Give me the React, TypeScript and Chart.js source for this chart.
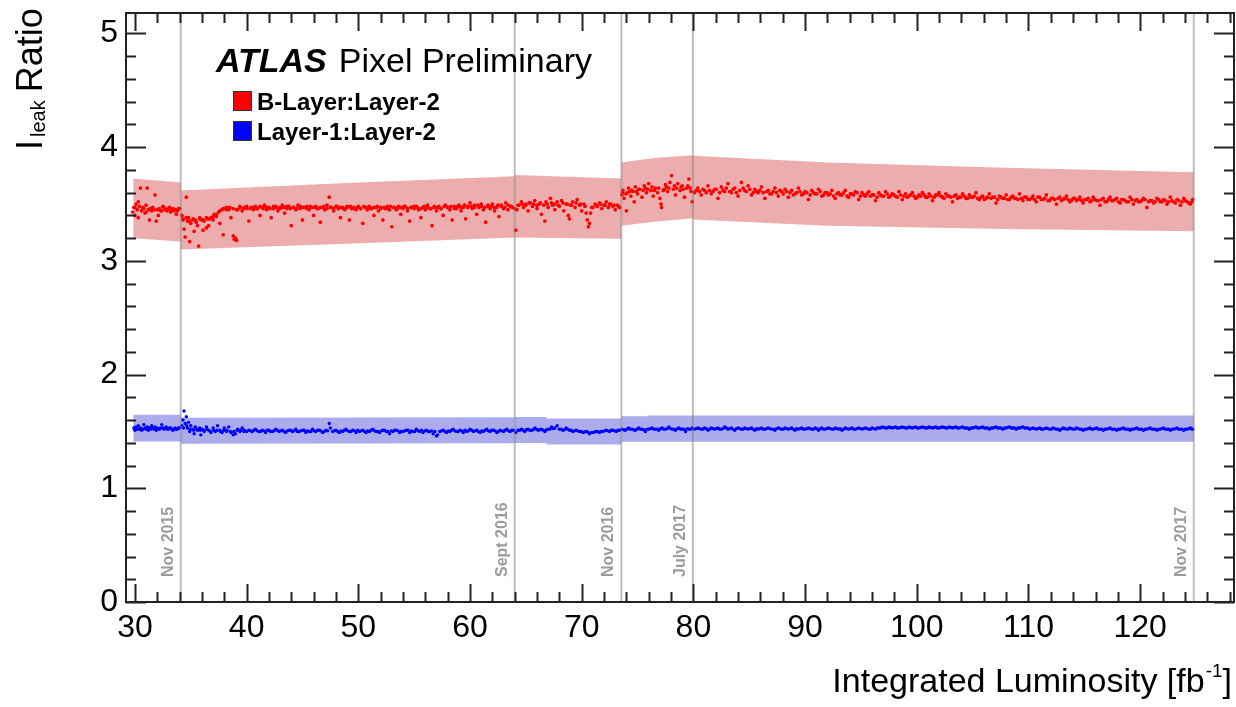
import { useEffect, useRef } from "react";
import { Chart, registerables } from "chart.js";

Chart.register(...registerables);

const FONT = "'Liberation Sans', Arial, Helvetica, sans-serif";

// ---- axes ----
const xRange = [29.2, 128.4];
const yRange = [0, 5.18];
const xMajorTicks = [30, 40, 50, 60, 70, 80, 90, 100, 110, 120];
const yMajorTicks = [0, 1, 2, 3, 4, 5];
const xMinorStep = 2;
const yMinorStep = 0.2;

// ---- period markers ----
const periodLumi = [34.1, 64.0, 73.55, 79.95, 124.8];
const periodLabels = ["Nov 2015", "Sept 2016", "Nov 2016", "July 2017", "Nov 2017"];

// ---- uncertainty bands: segments of [lumi, upper, lower] ----
const bLayerBand: number[][][] = [
  [[29.85, 3.725, 3.2], [34.1, 3.69, 3.17]],
  [[34.1, 3.62, 3.1], [49, 3.685, 3.15], [64.0, 3.745, 3.205]],
  [[64.0, 3.755, 3.205], [73.55, 3.725, 3.195]],
  [[73.55, 3.865, 3.31], [76.5, 3.905, 3.345], [79.95, 3.93, 3.375]],
  [[79.95, 3.925, 3.365], [92, 3.865, 3.31], [108, 3.82, 3.28], [124.8, 3.78, 3.26]],
];
const layer1Band: number[][][] = [
  [[29.85, 1.647, 1.412], [34.1, 1.647, 1.412]],
  [[34.1, 1.62, 1.392], [64.0, 1.625, 1.396]],
  [[64.0, 1.627, 1.398], [66.83, 1.627, 1.398], [66.87, 1.614, 1.386], [73.55, 1.614, 1.386]],
  [[73.55, 1.633, 1.41], [75.88, 1.633, 1.41], [75.92, 1.64, 1.41], [124.8, 1.64, 1.41]],
];

// ---- B-Layer:Layer-2 ratio points [lumi, ratio] ----
const bLayer2015 = [
  [29.8, 3.43], [29.9, 3.47], [30.0, 3.4], [30.0, 3.47], [30.1, 3.5], [30.2, 3.45], [30.3, 3.38], [30.3, 3.52],
  [30.4, 3.48], [30.5, 3.64], [30.6, 3.44], [30.7, 3.47], [30.8, 3.46], [30.9, 3.42], [31.0, 3.49], [31.0, 3.43],
  [31.1, 3.64], [31.2, 3.45], [31.3, 3.36], [31.4, 3.46], [31.5, 3.44], [31.6, 3.47], [31.7, 3.45], [31.8, 3.58],
  [31.9, 3.35], [32.0, 3.45], [32.1, 3.4], [32.2, 3.46], [32.3, 3.44], [32.4, 3.44], [32.5, 3.48], [32.6, 3.47],
  [32.7, 3.45], [32.8, 3.45], [32.9, 3.44], [33.0, 3.46], [33.1, 3.47], [33.2, 3.43], [33.3, 3.45], [33.4, 3.46],
  [33.5, 3.44], [33.6, 3.45], [33.7, 3.41], [33.8, 3.44], [33.9, 3.46], [34.0, 3.46],
];
const bLayer2016a = [
  [34.2, 3.4], [34.3, 3.36], [34.4, 3.28], [34.5, 3.21], [34.6, 3.56], [34.7, 3.35], [34.8, 3.38], [34.9, 3.17],
  [35.0, 3.33], [35.2, 3.37], [35.3, 3.26], [35.4, 3.36], [35.6, 3.31], [35.7, 3.13], [35.8, 3.38], [36.0, 3.36],
  [36.1, 3.27], [36.2, 3.35], [36.4, 3.29], [36.5, 3.37], [36.6, 3.31], [36.8, 3.38], [37.0, 3.36], [37.1, 3.41],
  [37.3, 3.39], [37.5, 3.43], [37.6, 3.33], [37.8, 3.45], [37.9, 3.23], [38.0, 3.46], [38.2, 3.47], [38.4, 3.45],
  [38.6, 3.38], [38.8, 3.22], [38.9, 3.19], [39.0, 3.2], [39.1, 3.18], [39.2, 3.45], [39.4, 3.48], [39.6, 3.44],
  [39.8, 3.47], [40.0, 3.46], [40.2, 3.35], [40.4, 3.47], [40.6, 3.45], [40.8, 3.48], [41.0, 3.46], [41.2, 3.4],
  [41.4, 3.47], [41.6, 3.49], [41.8, 3.45], [42.0, 3.47], [42.2, 3.38], [42.4, 3.46], [42.6, 3.48], [42.8, 3.44],
  [43.0, 3.47], [43.2, 3.49], [43.4, 3.42], [43.6, 3.46], [43.8, 3.48], [44.0, 3.31], [44.2, 3.47], [44.4, 3.45],
  [44.6, 3.49], [44.8, 3.46], [45.0, 3.36], [45.2, 3.47], [45.4, 3.48], [45.6, 3.45], [45.8, 3.47], [46.0, 3.4],
  [46.2, 3.48], [46.4, 3.46], [46.6, 3.34], [46.8, 3.47], [47.0, 3.45], [47.2, 3.49], [47.4, 3.56], [47.6, 3.47],
  [47.8, 3.44], [48.0, 3.48], [48.2, 3.46], [48.4, 3.38], [48.6, 3.47], [48.8, 3.45], [49.0, 3.48], [49.2, 3.36],
  [49.4, 3.46], [49.6, 3.47], [49.8, 3.45], [50.0, 3.48], [50.2, 3.46], [50.4, 3.33], [50.6, 3.47], [50.8, 3.45],
  [51.0, 3.48], [51.2, 3.46], [51.4, 3.4], [51.6, 3.47], [51.8, 3.44], [52.0, 3.47], [52.2, 3.36], [52.4, 3.46],
  [52.6, 3.48], [52.8, 3.45], [53.0, 3.3], [53.2, 3.47], [53.4, 3.45], [53.6, 3.48], [53.8, 3.41], [54.0, 3.46],
  [54.2, 3.48], [54.4, 3.44], [54.6, 3.35], [54.8, 3.47], [55.0, 3.46], [55.2, 3.48], [55.4, 3.45], [55.6, 3.38],
  [55.8, 3.47], [56.0, 3.45], [56.2, 3.49], [56.4, 3.46], [56.6, 3.31], [56.8, 3.47], [57.0, 3.44], [57.2, 3.48],
  [57.4, 3.46], [57.6, 3.4], [57.8, 3.49], [58.0, 3.47], [58.2, 3.45], [58.4, 3.36], [58.6, 3.48], [58.8, 3.46],
  [59.0, 3.49], [59.2, 3.44], [59.4, 3.47], [59.6, 3.37], [59.8, 3.48], [60.0, 3.51], [60.2, 3.46], [60.4, 3.49],
  [60.6, 3.41], [60.8, 3.47], [61.0, 3.5], [61.2, 3.45], [61.4, 3.34], [61.6, 3.48], [61.8, 3.46], [62.0, 3.5],
  [62.2, 3.44], [62.4, 3.47], [62.6, 3.39], [62.8, 3.49], [63.0, 3.46], [63.2, 3.51], [63.4, 3.45], [63.6, 3.48],
  [63.8, 3.47], [64.0, 3.46],
];
const bLayer2016c = [
  [34.3, 3.37], [34.6, 3.38], [34.9, 3.35], [35.2, 3.36], [35.5, 3.34], [35.8, 3.37], [36.1, 3.36], [36.4, 3.38],
  [36.7, 3.37], [37.0, 3.39], [37.3, 3.41], [37.6, 3.44], [37.9, 3.46], [38.2, 3.45], [38.5, 3.47], [38.8, 3.46],
  [39.1, 3.45], [39.4, 3.47], [39.7, 3.46], [40.0, 3.48], [40.3, 3.46], [40.6, 3.47], [40.9, 3.46], [41.2, 3.48],
  [41.5, 3.46], [41.8, 3.47], [42.1, 3.46], [42.4, 3.48], [42.7, 3.47], [43.0, 3.46], [43.3, 3.47], [43.6, 3.48],
  [43.9, 3.46], [44.2, 3.47], [44.5, 3.46], [44.8, 3.48], [45.1, 3.47], [45.4, 3.46], [45.7, 3.48], [46.0, 3.47],
  [46.3, 3.46], [46.6, 3.47], [46.9, 3.48], [47.2, 3.46], [47.5, 3.47], [47.8, 3.46], [48.1, 3.48], [48.4, 3.47],
  [48.7, 3.46], [49.0, 3.47], [49.3, 3.48], [49.6, 3.46], [49.9, 3.47], [50.2, 3.46], [50.5, 3.48], [50.8, 3.47],
  [51.1, 3.46], [51.4, 3.47], [51.7, 3.48], [52.0, 3.46], [52.3, 3.47], [52.6, 3.46], [52.9, 3.48], [53.2, 3.47],
  [53.5, 3.46], [53.8, 3.47], [54.1, 3.48], [54.4, 3.46], [54.7, 3.47], [55.0, 3.48], [55.3, 3.47], [55.6, 3.46],
  [55.9, 3.48], [56.2, 3.47], [56.5, 3.46], [56.8, 3.48], [57.1, 3.47], [57.4, 3.46], [57.7, 3.48], [58.0, 3.47],
  [58.3, 3.48], [58.6, 3.46], [58.9, 3.48], [59.2, 3.47], [59.5, 3.49], [59.8, 3.47], [60.1, 3.48], [60.4, 3.47],
  [60.7, 3.49], [61.0, 3.48], [61.3, 3.47], [61.6, 3.49], [61.9, 3.48], [62.2, 3.47], [62.5, 3.49], [62.8, 3.48],
  [63.1, 3.47], [63.4, 3.49], [63.7, 3.48],
];
const bLayer2016b = [
  [64.1, 3.27], [64.2, 3.45], [64.4, 3.49], [64.6, 3.52], [64.8, 3.47], [65.0, 3.5], [65.2, 3.44], [65.4, 3.51],
  [65.6, 3.48], [65.8, 3.53], [66.0, 3.46], [66.2, 3.5], [66.4, 3.41], [66.6, 3.49], [66.7, 3.35], [66.8, 3.52],
  [67.0, 3.47], [67.2, 3.55], [67.4, 3.49], [67.6, 3.45], [67.8, 3.52], [68.0, 3.48], [68.2, 3.53], [68.4, 3.44],
  [68.6, 3.5], [68.8, 3.4], [68.9, 3.37], [69.0, 3.49], [69.2, 3.52], [69.4, 3.47], [69.6, 3.54], [69.8, 3.49],
  [70.0, 3.44], [70.2, 3.5], [70.4, 3.42], [70.5, 3.36], [70.6, 3.3], [70.7, 3.33], [70.8, 3.42], [71.0, 3.47],
  [71.2, 3.5], [71.4, 3.48], [71.6, 3.51], [71.8, 3.46], [72.0, 3.49], [72.2, 3.52], [72.4, 3.47], [72.6, 3.5],
  [72.8, 3.48], [73.0, 3.45], [73.2, 3.49], [73.4, 3.47],
];
const bLayer2016d = [
  [64.3, 3.49], [64.7, 3.5], [65.0, 3.49], [65.3, 3.51], [65.7, 3.5], [66.0, 3.49], [66.3, 3.51], [66.9, 3.5],
  [67.3, 3.51], [67.6, 3.5], [67.9, 3.49], [68.3, 3.51], [68.7, 3.5], [69.1, 3.49], [69.5, 3.51], [69.9, 3.5],
  [70.3, 3.48], [70.9, 3.47], [71.3, 3.49], [71.7, 3.5], [72.1, 3.49], [72.5, 3.5], [72.9, 3.49], [73.3, 3.48],
];
const bLayer2017a = [
  [73.6, 3.58], [73.7, 3.62], [73.8, 3.55], [74.0, 3.44], [74.1, 3.6], [74.2, 3.64], [74.4, 3.57], [74.6, 3.61],
  [74.7, 3.52], [74.8, 3.65], [75.0, 3.59], [75.2, 3.63], [75.4, 3.56], [75.6, 3.66], [75.8, 3.6], [76.0, 3.68],
  [76.2, 3.62], [76.4, 3.57], [76.6, 3.64], [76.8, 3.6], [77.0, 3.55], [77.1, 3.5], [77.15, 3.47], [77.3, 3.62],
  [77.5, 3.67], [77.7, 3.61], [77.9, 3.69], [78.05, 3.75], [78.2, 3.63], [78.4, 3.58], [78.6, 3.68], [78.8, 3.62],
  [79.0, 3.66], [79.2, 3.56], [79.4, 3.64], [79.6, 3.72], [79.8, 3.61], [79.9, 3.52],
];
const bLayer2017d = [
  [73.65, 3.6], [73.95, 3.59], [74.3, 3.61], [74.5, 3.62], [74.9, 3.61], [75.1, 3.63], [75.5, 3.62], [75.7, 3.64],
  [75.9, 3.63], [76.3, 3.65], [76.5, 3.62], [76.9, 3.64], [77.4, 3.63], [77.6, 3.65], [77.8, 3.64], [78.3, 3.66],
  [78.5, 3.64], [78.9, 3.65], [79.1, 3.63], [79.5, 3.66], [79.7, 3.64],
];
const bLayer2017b = [
  [80.1, 3.6], [80.4, 3.64], [80.7, 3.58], [81.0, 3.62], [81.3, 3.66], [81.6, 3.59], [81.9, 3.63], [82.2, 3.55],
  [82.5, 3.65], [82.8, 3.61], [83.1, 3.68], [83.4, 3.6], [83.7, 3.64], [84.0, 3.57], [84.3, 3.69], [84.6, 3.62],
  [84.9, 3.66], [85.2, 3.58], [85.5, 3.63], [85.8, 3.6], [86.1, 3.65], [86.4, 3.55], [86.7, 3.62], [87.0, 3.59],
  [87.3, 3.64], [87.6, 3.57], [87.9, 3.61], [88.2, 3.63], [88.5, 3.56], [88.8, 3.62], [89.1, 3.59], [89.4, 3.64],
  [89.7, 3.58], [90.0, 3.61], [90.3, 3.54], [90.6, 3.62], [90.9, 3.59], [91.2, 3.63], [91.5, 3.57], [91.8, 3.6],
  [92.1, 3.58], [92.4, 3.62], [92.7, 3.55], [93.0, 3.6], [93.3, 3.58], [93.6, 3.62], [93.9, 3.56], [94.2, 3.59],
  [94.5, 3.61], [94.8, 3.54], [95.1, 3.6], [95.4, 3.57], [95.7, 3.61], [96.0, 3.58], [96.3, 3.53], [96.6, 3.6],
  [96.9, 3.57], [97.2, 3.61], [97.5, 3.56], [97.8, 3.59], [98.1, 3.57], [98.4, 3.61], [98.7, 3.54], [99.0, 3.59],
  [99.3, 3.57], [99.6, 3.6], [99.9, 3.55], [100.2, 3.58], [100.5, 3.6], [100.8, 3.56], [101.1, 3.59], [101.4, 3.53],
  [101.7, 3.58], [102.0, 3.6], [102.3, 3.56], [102.6, 3.59], [102.9, 3.57], [103.2, 3.52], [103.5, 3.58], [103.8, 3.56],
  [104.1, 3.59], [104.4, 3.55], [104.7, 3.58], [105.0, 3.56], [105.3, 3.6], [105.6, 3.54], [105.9, 3.57], [106.2, 3.55],
  [106.5, 3.59], [106.8, 3.56], [107.1, 3.51], [107.4, 3.57], [107.7, 3.55], [108.0, 3.58], [108.3, 3.54], [108.6, 3.57],
  [108.9, 3.55], [109.2, 3.59], [109.5, 3.53], [109.8, 3.56], [110.1, 3.54], [110.4, 3.57], [110.7, 3.52], [111.0, 3.56],
  [111.3, 3.54], [111.6, 3.58], [111.9, 3.53], [112.2, 3.55], [112.5, 3.5], [112.8, 3.56], [113.1, 3.54], [113.4, 3.57],
  [113.7, 3.52], [114.0, 3.55], [114.3, 3.53], [114.6, 3.56], [114.9, 3.51], [115.2, 3.54], [115.5, 3.52], [115.8, 3.56],
  [116.1, 3.53], [116.4, 3.49], [116.7, 3.55], [117.0, 3.52], [117.3, 3.56], [117.6, 3.53], [117.9, 3.55], [118.2, 3.51],
  [118.5, 3.54], [118.8, 3.52], [119.1, 3.56], [119.4, 3.5], [119.7, 3.54], [120.0, 3.52], [120.3, 3.55], [120.6, 3.47],
  [120.9, 3.53], [121.2, 3.51], [121.5, 3.55], [121.8, 3.52], [122.1, 3.54], [122.4, 3.5], [122.7, 3.56], [123.0, 3.52],
  [123.3, 3.54], [123.6, 3.49], [123.9, 3.55], [124.2, 3.52], [124.5, 3.5], [124.7, 3.54],
];
const bLayer2017c = [
  [80.25, 3.62], [80.55, 3.61], [80.85, 3.63], [81.15, 3.6], [81.45, 3.62], [81.75, 3.61], [82.05, 3.63], [82.35, 3.6],
  [82.65, 3.62], [82.95, 3.64], [83.25, 3.61], [83.55, 3.63], [83.85, 3.6], [84.15, 3.62], [84.45, 3.64], [84.75, 3.61],
  [85.05, 3.63], [85.35, 3.6], [85.65, 3.61], [85.95, 3.62], [86.25, 3.6], [86.55, 3.61], [86.85, 3.59], [87.15, 3.61],
  [87.45, 3.6], [87.75, 3.62], [88.05, 3.59], [88.35, 3.61], [88.65, 3.6], [88.95, 3.58], [89.25, 3.6], [89.55, 3.61],
  [89.85, 3.59], [90.15, 3.6], [90.45, 3.58], [90.75, 3.6], [91.05, 3.59], [91.35, 3.61], [91.65, 3.58], [91.95, 3.6],
  [92.25, 3.59], [92.55, 3.57], [92.85, 3.59], [93.15, 3.58], [93.45, 3.6], [93.75, 3.57], [94.05, 3.59], [94.35, 3.58],
  [94.65, 3.6], [94.95, 3.57], [95.25, 3.58], [95.55, 3.59], [95.85, 3.57], [96.15, 3.58], [96.45, 3.56], [96.75, 3.58],
  [97.05, 3.57], [97.35, 3.59], [97.65, 3.57], [97.95, 3.58], [98.25, 3.56], [98.55, 3.58], [98.85, 3.57], [99.15, 3.56],
  [99.45, 3.58], [99.75, 3.57], [100.05, 3.56], [100.35, 3.57], [100.65, 3.58], [100.95, 3.56], [101.25, 3.57], [101.55, 3.56],
  [101.85, 3.58], [102.15, 3.57], [102.45, 3.55], [102.75, 3.57], [103.05, 3.56], [103.35, 3.57], [103.65, 3.55], [103.95, 3.56],
  [104.25, 3.57], [104.55, 3.55], [104.85, 3.56], [105.15, 3.57], [105.45, 3.55], [105.75, 3.56], [106.05, 3.54], [106.35, 3.56],
  [106.65, 3.55], [106.95, 3.56], [107.25, 3.54], [107.55, 3.56], [107.85, 3.55], [108.15, 3.54], [108.45, 3.56], [108.75, 3.55],
  [109.05, 3.54], [109.35, 3.55], [109.65, 3.56], [109.95, 3.54], [110.25, 3.55], [110.55, 3.54], [110.85, 3.56], [111.15, 3.54],
  [111.45, 3.55], [111.75, 3.53], [112.05, 3.55], [112.35, 3.54], [112.65, 3.55], [112.95, 3.53], [113.25, 3.55], [113.55, 3.54],
  [113.85, 3.53], [114.15, 3.55], [114.45, 3.54], [114.75, 3.53], [115.05, 3.54], [115.35, 3.55], [115.65, 3.53], [115.95, 3.54],
  [116.25, 3.53], [116.55, 3.54], [116.85, 3.52], [117.15, 3.54], [117.45, 3.53], [117.75, 3.54], [118.05, 3.52], [118.35, 3.54],
  [118.65, 3.53], [118.95, 3.52], [119.25, 3.54], [119.55, 3.53], [119.85, 3.52], [120.15, 3.53], [120.45, 3.54], [120.75, 3.52],
  [121.05, 3.53], [121.35, 3.52], [121.65, 3.54], [121.95, 3.52], [122.25, 3.53], [122.55, 3.52], [122.85, 3.53], [123.15, 3.51],
  [123.45, 3.53], [123.75, 3.52], [124.05, 3.53], [124.35, 3.51], [124.65, 3.52],
];

// ---- Layer-1:Layer-2 ratio points [lumi, ratio] ----
const layer1_2015 = [
  [29.9, 1.53], [30.0, 1.51], [30.1, 1.54], [30.2, 1.52], [30.3, 1.55], [30.4, 1.52], [30.5, 1.53], [30.6, 1.51],
  [30.7, 1.52], [30.8, 1.56], [30.9, 1.53], [31.0, 1.52], [31.1, 1.54], [31.2, 1.51], [31.3, 1.53], [31.4, 1.52],
  [31.5, 1.55], [31.6, 1.53], [31.7, 1.52], [31.8, 1.54], [31.9, 1.51], [32.0, 1.53], [32.1, 1.52], [32.2, 1.52],
  [32.3, 1.53], [32.4, 1.56], [32.5, 1.53], [32.6, 1.52], [32.7, 1.53], [32.8, 1.54], [32.9, 1.52], [33.0, 1.52],
  [33.1, 1.53], [33.2, 1.53], [33.3, 1.52], [33.4, 1.51], [33.5, 1.52], [33.6, 1.53], [33.7, 1.52], [33.8, 1.52],
  [33.9, 1.53], [34.0, 1.53],
];
const layer1_2016a = [
  [34.2, 1.55], [34.3, 1.6], [34.4, 1.68], [34.5, 1.57], [34.6, 1.63], [34.7, 1.53], [34.8, 1.58], [34.9, 1.5],
  [35.0, 1.55], [35.2, 1.52], [35.3, 1.48], [35.4, 1.54], [35.6, 1.51], [35.8, 1.53], [35.9, 1.47], [36.0, 1.52],
  [36.2, 1.5], [36.4, 1.54], [36.6, 1.51], [36.8, 1.49], [37.0, 1.53], [37.2, 1.5], [37.4, 1.55], [37.6, 1.51],
  [37.8, 1.49], [38.0, 1.53], [38.2, 1.5], [38.4, 1.54], [38.6, 1.49], [38.8, 1.47], [39.0, 1.48], [39.2, 1.52],
  [39.4, 1.5], [39.6, 1.53], [39.8, 1.51], [40.0, 1.5], [40.2, 1.51], [40.5, 1.5], [40.8, 1.52], [41.1, 1.5],
  [41.4, 1.51], [41.7, 1.49], [42.0, 1.51], [42.3, 1.5], [42.6, 1.52], [42.9, 1.5], [43.2, 1.51], [43.5, 1.49],
  [43.8, 1.51], [44.1, 1.5], [44.4, 1.52], [44.7, 1.5], [45.0, 1.51], [45.3, 1.49], [45.6, 1.5], [45.9, 1.52],
  [46.2, 1.5], [46.5, 1.51], [46.8, 1.49], [47.1, 1.51], [47.4, 1.57], [47.5, 1.53], [47.7, 1.5], [48.0, 1.51],
  [48.3, 1.49], [48.6, 1.5], [48.9, 1.52], [49.2, 1.5], [49.5, 1.51], [49.8, 1.49], [50.1, 1.5], [50.4, 1.51],
  [50.7, 1.49], [51.0, 1.5], [51.3, 1.52], [51.6, 1.5], [51.9, 1.49], [52.2, 1.51], [52.5, 1.5], [52.8, 1.48],
  [53.1, 1.5], [53.4, 1.51], [53.7, 1.49], [54.0, 1.5], [54.3, 1.51], [54.6, 1.49], [54.9, 1.5], [55.2, 1.52],
  [55.5, 1.5], [55.8, 1.49], [56.1, 1.51], [56.4, 1.5], [56.7, 1.48], [57.0, 1.46], [57.1, 1.47], [57.3, 1.5],
  [57.6, 1.51], [57.9, 1.49], [58.2, 1.5], [58.5, 1.52], [58.8, 1.5], [59.1, 1.51], [59.4, 1.49], [59.7, 1.5],
  [60.0, 1.52], [60.3, 1.5], [60.6, 1.51], [60.9, 1.49], [61.2, 1.5], [61.5, 1.52], [61.8, 1.5], [62.1, 1.51],
  [62.4, 1.49], [62.7, 1.51], [63.0, 1.5], [63.3, 1.52], [63.6, 1.5], [63.9, 1.51],
];
const layer1_2016c = [
  [34.35, 1.53], [34.65, 1.55], [34.95, 1.52], [35.25, 1.51], [35.55, 1.52], [35.85, 1.51], [36.15, 1.51], [36.45, 1.52],
  [36.75, 1.5], [37.05, 1.51], [37.35, 1.51], [37.65, 1.5], [37.95, 1.51], [38.25, 1.51], [38.55, 1.5], [38.85, 1.5],
  [39.15, 1.51], [39.45, 1.51], [39.75, 1.5], [40.35, 1.505], [40.65, 1.51], [40.95, 1.505], [41.25, 1.5], [41.55, 1.505],
  [41.85, 1.51], [42.15, 1.5], [42.45, 1.505], [42.75, 1.51], [43.05, 1.505], [43.35, 1.5], [43.65, 1.505], [43.95, 1.51],
  [44.25, 1.505], [44.55, 1.5], [44.85, 1.505], [45.15, 1.51], [45.45, 1.505], [45.75, 1.5], [46.05, 1.505], [46.35, 1.51],
  [46.65, 1.505], [46.95, 1.5], [47.25, 1.505], [47.85, 1.505], [48.15, 1.5], [48.45, 1.505], [48.75, 1.51], [49.05, 1.505],
  [49.35, 1.5], [49.65, 1.505], [49.95, 1.51], [50.25, 1.505], [50.55, 1.5], [50.85, 1.505], [51.15, 1.51], [51.45, 1.505],
  [51.75, 1.5], [52.05, 1.505], [52.35, 1.51], [52.65, 1.5], [52.95, 1.505], [53.25, 1.51], [53.55, 1.505], [53.85, 1.5],
  [54.15, 1.505], [54.45, 1.51], [54.75, 1.505], [55.05, 1.5], [55.35, 1.505], [55.65, 1.51], [55.95, 1.505], [56.25, 1.5],
  [56.55, 1.505], [56.85, 1.5], [57.45, 1.505], [57.75, 1.5], [58.05, 1.505], [58.35, 1.51], [58.65, 1.505], [58.95, 1.5],
  [59.25, 1.505], [59.55, 1.51], [59.85, 1.505], [60.15, 1.51], [60.45, 1.505], [60.75, 1.5], [61.05, 1.505], [61.35, 1.51],
  [61.65, 1.505], [61.95, 1.51], [62.25, 1.505], [62.55, 1.5], [62.85, 1.505], [63.15, 1.51], [63.45, 1.505], [63.75, 1.51],
];
const layer1_2016b = [
  [64.1, 1.49], [64.3, 1.51], [64.6, 1.52], [64.9, 1.5], [65.2, 1.52], [65.5, 1.51], [65.8, 1.53], [66.1, 1.51],
  [66.4, 1.52], [66.7, 1.5], [67.0, 1.52], [67.3, 1.54], [67.6, 1.53], [67.8, 1.55], [68.0, 1.52], [68.3, 1.51],
  [68.6, 1.53], [68.9, 1.51], [69.2, 1.5], [69.5, 1.51], [69.8, 1.5], [70.1, 1.49], [70.4, 1.5], [70.7, 1.48],
  [71.0, 1.49], [71.3, 1.5], [71.6, 1.49], [71.9, 1.5], [72.2, 1.51], [72.5, 1.5], [72.8, 1.51], [73.1, 1.5],
  [73.4, 1.51],
];
const layer1_2016d = [
  [64.45, 1.51], [64.75, 1.51], [65.05, 1.515], [65.35, 1.51], [65.65, 1.515], [65.95, 1.52], [66.25, 1.515], [66.55, 1.51],
  [66.85, 1.515], [67.15, 1.52], [67.45, 1.525], [68.15, 1.52], [68.45, 1.515], [68.75, 1.52], [69.05, 1.51], [69.35, 1.505],
  [69.65, 1.505], [69.95, 1.5], [70.25, 1.495], [70.55, 1.495], [70.85, 1.49], [71.15, 1.495], [71.45, 1.5], [71.75, 1.5],
  [72.05, 1.505], [72.35, 1.505], [72.65, 1.51], [72.95, 1.505], [73.25, 1.51],
];
const layer1_2017a = [
  [73.6, 1.52], [73.9, 1.51], [74.2, 1.53], [74.5, 1.52], [74.8, 1.51], [75.1, 1.53], [75.4, 1.52], [75.7, 1.5],
  [76.0, 1.52], [76.3, 1.53], [76.6, 1.52], [76.9, 1.51], [77.2, 1.53], [77.5, 1.52], [77.8, 1.54], [78.1, 1.52],
  [78.4, 1.51], [78.7, 1.53], [79.0, 1.52], [79.3, 1.5], [79.6, 1.52], [79.9, 1.53],
  [73.75, 1.515], [74.05, 1.52], [74.35, 1.52], [74.65, 1.515], [74.95, 1.52], [75.25, 1.52], [75.55, 1.515], [75.85, 1.52],
  [76.15, 1.525], [76.45, 1.52], [76.75, 1.52], [77.05, 1.525], [77.35, 1.52], [77.65, 1.525], [77.95, 1.525], [78.25, 1.52],
  [78.55, 1.525], [78.85, 1.52], [79.15, 1.52], [79.45, 1.525], [79.75, 1.52],
];
const layer1_2017b = [
  [80.1, 1.52], [80.4, 1.53], [80.7, 1.52], [81.0, 1.53], [81.3, 1.51], [81.6, 1.53], [81.9, 1.52], [82.2, 1.53],
  [82.5, 1.52], [82.8, 1.54], [83.1, 1.52], [83.4, 1.53], [83.7, 1.51], [84.0, 1.53], [84.3, 1.52], [84.6, 1.53],
  [84.9, 1.52], [85.2, 1.53], [85.5, 1.51], [85.8, 1.52], [86.1, 1.53], [86.4, 1.52], [86.7, 1.53], [87.0, 1.52],
  [87.3, 1.51], [87.6, 1.53], [87.9, 1.52], [88.2, 1.53], [88.5, 1.52], [88.8, 1.53], [89.1, 1.51], [89.4, 1.52],
  [89.7, 1.53], [90.0, 1.52], [90.3, 1.53], [90.6, 1.52], [90.9, 1.53], [91.2, 1.51], [91.5, 1.53], [91.8, 1.52],
  [92.1, 1.53], [92.4, 1.52], [92.7, 1.53], [93.0, 1.52], [93.3, 1.51], [93.6, 1.53], [93.9, 1.52], [94.2, 1.53],
  [94.5, 1.52], [94.8, 1.53], [95.1, 1.52], [95.4, 1.53], [95.7, 1.52], [96.0, 1.53], [96.3, 1.52], [96.6, 1.53],
  [96.9, 1.54], [97.2, 1.53], [97.5, 1.54], [97.8, 1.53], [98.1, 1.54], [98.4, 1.53], [98.7, 1.54], [99.0, 1.53],
  [99.3, 1.54], [99.6, 1.53], [99.9, 1.54], [100.2, 1.53], [100.5, 1.54], [100.8, 1.53], [101.1, 1.54], [101.4, 1.53],
  [101.7, 1.54], [102.0, 1.53], [102.3, 1.54], [102.6, 1.53], [102.9, 1.54], [103.2, 1.53], [103.5, 1.54], [103.8, 1.53],
  [104.1, 1.54], [104.4, 1.53], [104.7, 1.52], [105.0, 1.53], [105.3, 1.54], [105.6, 1.53], [105.9, 1.54], [106.2, 1.53],
  [106.5, 1.52], [106.8, 1.53], [107.1, 1.54], [107.4, 1.53], [107.7, 1.52], [108.0, 1.53], [108.3, 1.54], [108.6, 1.53],
  [108.9, 1.52], [109.2, 1.53], [109.5, 1.54], [109.8, 1.53], [110.1, 1.52], [110.4, 1.53], [110.7, 1.52], [111.0, 1.53],
  [111.3, 1.52], [111.6, 1.53], [111.9, 1.52], [112.2, 1.53], [112.5, 1.52], [112.8, 1.51], [113.1, 1.53], [113.4, 1.52],
  [113.7, 1.53], [114.0, 1.52], [114.3, 1.53], [114.6, 1.52], [114.9, 1.51], [115.2, 1.52], [115.5, 1.53], [115.8, 1.52],
  [116.1, 1.53], [116.4, 1.52], [116.7, 1.51], [117.0, 1.52], [117.3, 1.53], [117.6, 1.52], [117.9, 1.51], [118.2, 1.52],
  [118.5, 1.53], [118.8, 1.52], [119.1, 1.51], [119.4, 1.52], [119.7, 1.53], [120.0, 1.52], [120.3, 1.51], [120.6, 1.52],
  [120.9, 1.53], [121.2, 1.52], [121.5, 1.51], [121.8, 1.52], [122.1, 1.53], [122.4, 1.52], [122.7, 1.51], [123.0, 1.52],
  [123.3, 1.53], [123.6, 1.52], [123.9, 1.51], [124.2, 1.52], [124.5, 1.53], [124.7, 1.52],
];
const layer1_2017c = [
  [80.25, 1.525], [80.55, 1.525], [80.85, 1.52], [81.15, 1.525], [81.45, 1.52], [81.75, 1.525], [82.05, 1.525], [82.35, 1.52],
  [82.65, 1.525], [82.95, 1.53], [83.25, 1.525], [83.55, 1.52], [83.85, 1.525], [84.15, 1.525], [84.45, 1.52], [84.75, 1.525],
  [85.05, 1.525], [85.35, 1.52], [85.65, 1.525], [85.95, 1.525], [86.25, 1.52], [86.55, 1.525], [86.85, 1.525], [87.15, 1.52],
  [87.45, 1.525], [87.75, 1.525], [88.05, 1.52], [88.35, 1.525], [88.65, 1.525], [88.95, 1.52], [89.25, 1.525], [89.55, 1.525],
  [89.85, 1.52], [90.15, 1.525], [90.45, 1.525], [90.75, 1.52], [91.05, 1.525], [91.35, 1.525], [91.65, 1.52], [91.95, 1.525],
  [92.25, 1.525], [92.55, 1.52], [92.85, 1.525], [93.15, 1.525], [93.45, 1.52], [93.75, 1.525], [94.05, 1.525], [94.35, 1.52],
  [94.65, 1.525], [94.95, 1.525], [95.25, 1.525], [95.55, 1.525], [95.85, 1.52], [96.15, 1.525], [96.45, 1.53], [96.75, 1.53],
  [97.05, 1.535], [97.35, 1.53], [97.65, 1.535], [97.95, 1.535], [98.25, 1.53], [98.55, 1.535], [98.85, 1.535], [99.15, 1.53],
  [99.45, 1.535], [99.75, 1.535], [100.05, 1.53], [100.35, 1.535], [100.65, 1.535], [100.95, 1.53], [101.25, 1.535], [101.55, 1.535],
  [101.85, 1.53], [102.15, 1.535], [102.45, 1.535], [102.75, 1.53], [103.05, 1.535], [103.35, 1.535], [103.65, 1.53], [103.95, 1.535],
  [104.25, 1.53], [104.55, 1.53], [104.85, 1.53], [105.15, 1.535], [105.45, 1.53], [105.75, 1.535], [106.05, 1.53], [106.35, 1.53],
  [106.65, 1.53], [106.95, 1.535], [107.25, 1.53], [107.55, 1.53], [107.85, 1.53], [108.15, 1.535], [108.45, 1.53], [108.75, 1.53],
  [109.05, 1.53], [109.35, 1.535], [109.65, 1.53], [109.95, 1.53], [110.25, 1.525], [110.55, 1.525], [110.85, 1.525], [111.15, 1.52],
  [111.45, 1.525], [111.75, 1.525], [112.05, 1.52], [112.35, 1.525], [112.65, 1.52], [112.95, 1.52], [113.25, 1.525], [113.55, 1.52],
  [113.85, 1.525], [114.15, 1.52], [114.45, 1.525], [114.75, 1.52], [115.05, 1.52], [115.35, 1.525], [115.65, 1.52], [115.95, 1.525],
  [116.25, 1.52], [116.55, 1.52], [116.85, 1.52], [117.15, 1.525], [117.45, 1.52], [117.75, 1.52], [118.05, 1.52], [118.35, 1.525],
  [118.65, 1.52], [118.95, 1.52], [119.25, 1.52], [119.55, 1.525], [119.85, 1.52], [120.15, 1.52], [120.45, 1.52], [120.75, 1.525],
  [121.05, 1.52], [121.35, 1.52], [121.65, 1.52], [121.95, 1.525], [122.25, 1.52], [122.55, 1.52], [122.85, 1.52], [123.15, 1.525],
  [123.45, 1.52], [123.75, 1.52], [124.05, 1.52], [124.35, 1.525], [124.65, 1.52],
];

const RED = "#ff0000";
const BLUE = "#0000ff";
const RED_BAND = "rgb(235,173,173)";
const BLUE_BAND = "rgb(172,172,236)";

const toXY = (pts: number[][]) => pts.map(([x, y]) => ({ x, y }));

function bandDatasets(segments: number[][][], color: string) {
  const out: any[] = [];
  segments.forEach((seg) => {
    out.push({
      data: seg.map(([x, up]) => ({ x, y: up })),
      showLine: true,
      borderWidth: 0,
      borderColor: "rgba(0,0,0,0)",
      pointRadius: 0,
      fill: false,
      order: 3,
    });
    out.push({
      data: seg.map(([x, , lo]) => ({ x, y: lo })),
      showLine: true,
      borderWidth: 0,
      borderColor: "rgba(0,0,0,0)",
      backgroundColor: color,
      pointRadius: 0,
      fill: "-1",
      order: 3,
    });
  });
  return out;
}

function pointDataset(pts: number[][], color: string, radius: number) {
  return {
    data: toXY(pts),
    showLine: false,
    pointRadius: radius,
    pointHoverRadius: radius,
    pointBorderWidth: 0,
    pointBackgroundColor: color,
    order: 1,
  };
}

const rootStylePlugin = {
  id: "rootStyle",
  afterDatasetsDraw(chart: any) {
    const { ctx, chartArea: a, scales } = chart;
    const xs = scales.x;
    const ys = scales.y;
    ctx.save();
    ctx.strokeStyle = "#222";
    ctx.lineWidth = 2;
    ctx.strokeRect(a.left, a.top, a.right - a.left, a.bottom - a.top);
    ctx.beginPath();
    for (let v = xMajorTicks[0]; v <= xRange[1]; v += xMinorStep) {
      const isMajor = xMajorTicks.includes(Math.round(v * 1000) / 1000);
      const len = isMajor ? 18 : 10;
      const px = Math.round(xs.getPixelForValue(v)) + 0.5;
      ctx.moveTo(px, a.bottom);
      ctx.lineTo(px, a.bottom - len);
      ctx.moveTo(px, a.top);
      ctx.lineTo(px, a.top + len);
    }
    for (let i = 0; i * yMinorStep <= yRange[1] + 1e-9; i++) {
      const v = Math.round(i * yMinorStep * 1000) / 1000;
      const isMajor = yMajorTicks.includes(v);
      const len = isMajor ? 20 : 10;
      const py = Math.round(ys.getPixelForValue(v)) + 0.5;
      ctx.moveTo(a.left, py);
      ctx.lineTo(a.left + len, py);
      ctx.moveTo(a.right, py);
      ctx.lineTo(a.right - len, py);
    }
    ctx.lineWidth = 2;
    ctx.stroke();

    ctx.fillStyle = "#9c9c9c";
    ctx.font = `bold 16px ${FONT}`;
    ctx.textAlign = "left";
    ctx.textBaseline = "alphabetic";
    periodLumi.forEach((l, i) => {
      const px = xs.getPixelForValue(l);
      ctx.save();
      ctx.translate(px - 8, a.bottom - 25);
      ctx.rotate(-Math.PI / 2);
      ctx.fillText(periodLabels[i], 0, 0);
      ctx.restore();
    });
    ctx.restore();
  },
  afterDraw(chart: any) {
    const { ctx, chartArea: a } = chart;
    ctx.save();
    ctx.fillStyle = "#000";
    ctx.textBaseline = "alphabetic";
    ctx.textAlign = "left";
    ctx.font = `italic bold 34px ${FONT}`;
    ctx.fillText("ATLAS", 216, 72);
    const wA = ctx.measureText("ATLAS").width;
    ctx.font = `34px ${FONT}`;
    ctx.fillText("Pixel Preliminary", 216 + wA + 12, 72);

    const legend = [
      { color: RED, text: "B-Layer:Layer-2", y: 91 },
      { color: BLUE, text: "Layer-1:Layer-2", y: 121 },
    ];
    legend.forEach((it) => {
      ctx.fillStyle = it.color;
      ctx.fillRect(233, it.y, 19, 20);
      ctx.strokeStyle = "#333";
      ctx.lineWidth = 1;
      ctx.strokeRect(233.5, it.y + 0.5, 18, 19);
      ctx.fillStyle = "#000";
      ctx.font = `bold 24px ${FONT}`;
      ctx.fillText(it.text, 257, it.y + 18.5);
    });

    ctx.save();
    ctx.translate(42, 150);
    ctx.rotate(-Math.PI / 2);
    ctx.font = `36px ${FONT}`;
    ctx.fillText("I", 0, 0);
    const wI = ctx.measureText("I").width;
    ctx.font = `20px ${FONT}`;
    ctx.fillText("leak", wI + 3, 3);
    const wL = ctx.measureText("leak").width;
    ctx.font = `36px ${FONT}`;
    ctx.fillText("Ratio", wI + 3 + wL + 8, 0);
    ctx.restore();

    const main = "Integrated Luminosity [fb";
    ctx.font = `34px ${FONT}`;
    const wMain = ctx.measureText(main).width;
    const wBr = ctx.measureText("]").width;
    ctx.font = `19px ${FONT}`;
    const wSup = ctx.measureText("-1").width;
    const right = a.right - 3;
    const x0 = right - wBr - wSup - wMain;
    const base = 692;
    ctx.font = `34px ${FONT}`;
    ctx.fillText(main, x0, base);
    ctx.font = `19px ${FONT}`;
    ctx.fillText("-1", x0 + wMain + 1, base - 15);
    ctx.font = `34px ${FONT}`;
    ctx.fillText("]", x0 + wMain + wSup + 1, base);
    ctx.restore();
  },
};

export default function App() {
  const ref = useRef<HTMLCanvasElement | null>(null);
  useEffect(() => {
    if (!ref.current) return;
    const markerSets = periodLumi.map((l) => ({
      data: [
        { x: l, y: yRange[0] },
        { x: l, y: yRange[1] },
      ],
      showLine: true,
      borderColor: "rgba(110,110,110,0.45)",
      borderWidth: 2,
      pointRadius: 0,
      fill: false,
      order: 0,
    }));
    const R = 1.85;
    const B = 1.7;
    const datasets: any[] = [
      ...markerSets,
      pointDataset(bLayer2015, RED, R),
      pointDataset(bLayer2016a, RED, R),
      pointDataset(bLayer2016c, RED, R),
      pointDataset(bLayer2016b, RED, R),
      pointDataset(bLayer2016d, RED, R),
      pointDataset(bLayer2017a, RED, R),
      pointDataset(bLayer2017d, RED, R),
      pointDataset(bLayer2017b, RED, R),
      pointDataset(bLayer2017c, RED, R),
      pointDataset(layer1_2015, BLUE, B),
      pointDataset(layer1_2016a, BLUE, B),
      pointDataset(layer1_2016c, BLUE, B),
      pointDataset(layer1_2016b, BLUE, B),
      pointDataset(layer1_2016d, BLUE, B),
      pointDataset(layer1_2017a, BLUE, B),
      pointDataset(layer1_2017b, BLUE, B),
      pointDataset(layer1_2017c, BLUE, B),
      ...bandDatasets(bLayerBand, RED_BAND),
      ...bandDatasets(layer1Band, BLUE_BAND),
    ];
    const tickFont = { family: FONT, size: 32 };
    const chart = new Chart(ref.current, {
      type: "scatter",
      data: { datasets },
      plugins: [rootStylePlugin],
      options: {
        animation: false,
        responsive: false,
        events: [],
        layout: { padding: { left: 0, right: 2, top: 13, bottom: 0 } },
        plugins: {
          legend: { display: false },
          tooltip: { enabled: false },
          filler: { propagate: false },
        },
        scales: {
          x: {
            type: "linear",
            min: xRange[0],
            max: xRange[1],
            grid: { display: false, drawTicks: false },
            border: { display: false },
            ticks: {
              font: tickFont,
              color: "#000",
              padding: 7,
              autoSkip: false,
              maxRotation: 0,
              minRotation: 0,
              callback: (v: any) => String(v),
            },
            afterBuildTicks: (s: any) => {
              s.ticks = xMajorTicks.map((value) => ({ value }));
            },
            afterFit: (s: any) => {
              s.height = 105;
              s.paddingLeft = 0;
              s.paddingRight = 0;
              s.paddingTop = 0;
              s.paddingBottom = 0;
            },
          },
          y: {
            type: "linear",
            min: yRange[0],
            max: yRange[1],
            grid: { display: false, drawTicks: false },
            border: { display: false },
            ticks: {
              font: tickFont,
              color: "#000",
              padding: 8,
              autoSkip: false,
              callback: (v: any) => String(v),
            },
            afterBuildTicks: (s: any) => {
              s.ticks = yMajorTicks.map((value) => ({ value }));
            },
            afterFit: (s: any) => {
              s.width = 126;
              s.paddingLeft = 0;
              s.paddingRight = 0;
              s.paddingTop = 0;
              s.paddingBottom = 0;
            },
          },
        },
      },
    });
    return () => chart.destroy();
  }, []);
  return (
    <div style={{ position: "fixed", left: 0, top: 0, width: 1236, height: 707, background: "#fff" }}>
      <canvas ref={ref} width={1236} height={707} style={{ display: "block" }} />
    </div>
  );
}
